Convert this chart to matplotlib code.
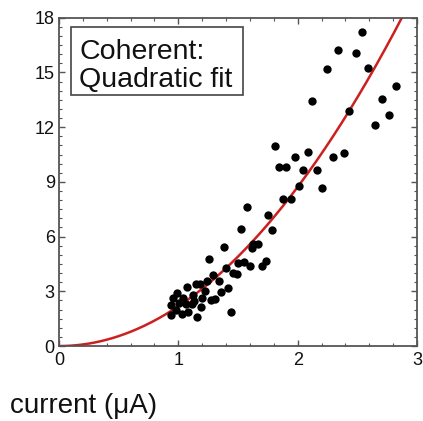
import numpy as np
import matplotlib
matplotlib.use("Agg")
import matplotlib.pyplot as plt
from matplotlib.ticker import MultipleLocator
from matplotlib.patches import Rectangle

plt.rcParams['font.family'] = ['Liberation Sans', 'DejaVu Sans']

# measured points (current in uA, signal)
current = [2.536, 2.335, 2.486, 2.589, 2.249, 2.827, 2.123, 2.707, 2.433, 2.763,
           2.648, 1.813, 2.087, 2.388, 2.293, 1.975, 1.844, 1.905, 2.045, 2.165,
           2.011, 2.204, 1.877, 1.944, 1.573, 1.754, 1.782, 1.525, 1.383, 1.628,
           1.670, 1.620, 1.732, 1.701, 1.598, 1.503, 1.547, 1.260, 1.397, 1.461,
           1.489, 1.293, 1.341, 1.419, 1.360, 1.226, 1.145, 1.184, 1.237, 1.075,
           0.992, 0.953, 1.039, 1.126, 1.196, 1.307, 1.271, 0.939, 1.067, 1.115,
           1.190, 0.978, 1.028, 1.084, 0.939, 1.154, 1.439, 1.008, 1.134]
signal = [17.19, 16.22, 16.04, 15.25, 15.18, 14.26, 13.42, 13.53, 12.91, 12.64,
          12.13, 10.96, 10.65, 10.59, 10.39, 10.34, 9.81, 9.79, 9.63, 9.66,
          8.80, 8.64, 8.05, 8.05, 7.63, 7.20, 6.34, 6.39, 5.44, 5.59,
          5.57, 5.35, 4.66, 4.40, 4.38, 4.58, 4.60, 4.79, 4.29, 3.98,
          3.95, 3.87, 3.56, 3.21, 2.98, 3.00, 3.42, 3.40, 3.56, 3.25,
          2.89, 2.61, 2.65, 2.79, 2.61, 2.59, 2.52, 2.25, 2.28, 2.32,
          2.12, 1.95, 1.75, 1.84, 1.70, 1.57, 1.84, 2.34, 2.45]

# quadratic fit coefficient
a = 2.18
xfit = np.linspace(0, 3, 300)
yfit = a * xfit**2

fig = plt.figure(figsize=(4.23, 4.21), dpi=100)
ax = fig.add_axes([0.1395, 0.178, 0.8463, 0.780])

ax.plot(xfit, yfit, color='#cc1f1f', lw=1.8, zorder=2)
ax.plot(current, signal, 'o', color='black', ms=6, mew=0, zorder=3)

ax.set_xlim(0, 3)
ax.set_ylim(0, 18)
ax.xaxis.set_major_locator(MultipleLocator(1))
ax.xaxis.set_minor_locator(MultipleLocator(0.2))
ax.yaxis.set_major_locator(MultipleLocator(3))
ax.yaxis.set_minor_locator(MultipleLocator(0.5))
ax.tick_params(which='both', direction='in', top=True, right=True,
               color='#555555', labelsize=13, labelcolor='#111111')
ax.tick_params(which='major', length=4, width=1)
ax.tick_params(which='minor', length=2.5, width=0.8)
ax.tick_params(axis='x', pad=4)
ax.tick_params(axis='y', pad=3)
for s in ax.spines.values():
    s.set_color('#555555')
    s.set_linewidth(1.3)

# label box
ax.add_patch(Rectangle((0.0335, 0.764), 0.4805, 0.207, transform=ax.transAxes,
                       fc='white', ec='#444444', lw=1.2, zorder=4))
ax.text(0.056, 0.874, 'Coherent:', transform=ax.transAxes, ha='left',
        va='baseline', fontsize=20.5, color='#111111', zorder=5)
ax.text(0.056, 0.788, 'Quadratic fit', transform=ax.transAxes, ha='left',
        va='baseline', fontsize=20.5, color='#111111', zorder=5)

fig.text(0.024, 0.019, 'current (\u03bcA)', fontsize=20, color='#111111',
         ha='left', va='baseline')

fig.savefig('out.png', dpi=100)
